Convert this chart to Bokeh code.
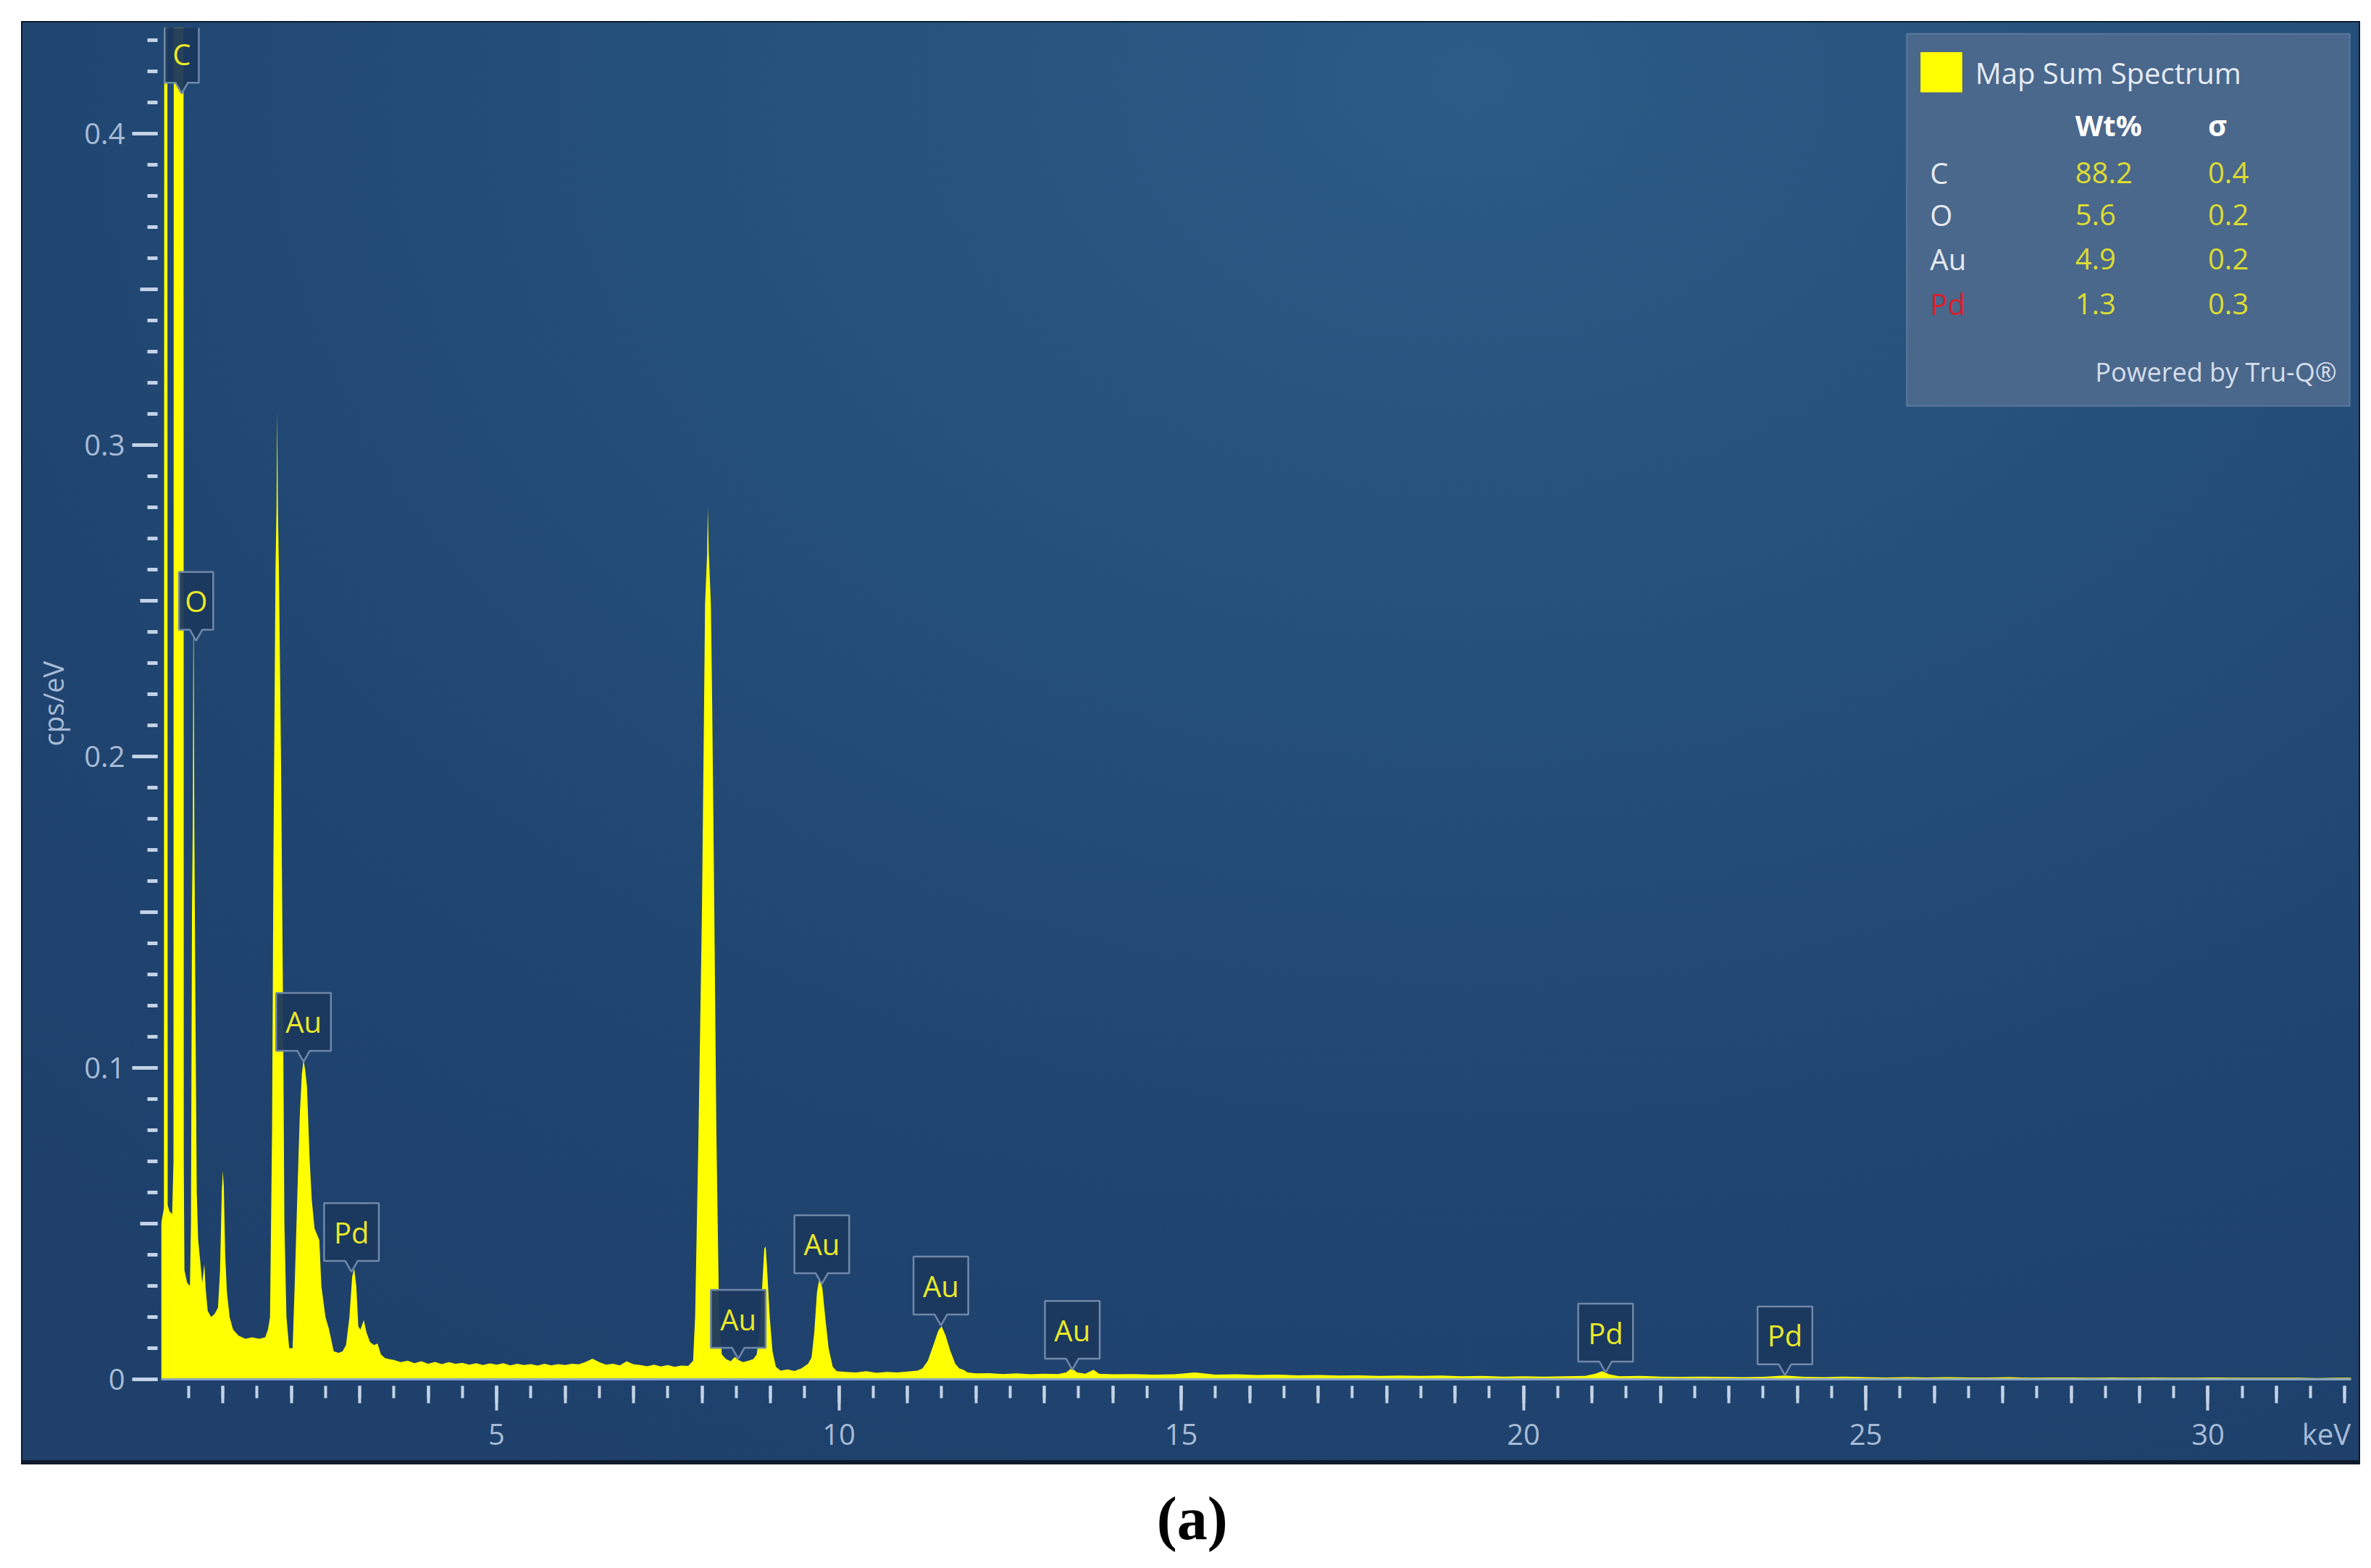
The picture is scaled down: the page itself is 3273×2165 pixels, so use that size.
from bokeh.plotting import figure
from bokeh.models import Range1d, LinearAxis, FixedTicker, CustomJSTickFormatter
from bokeh.embed import file_html
from bokeh.resources import INLINE
from bokeh.core.properties import value

FONT = "Open Sans"

# ---------------- data ----------------
energy_kev = [
    0.10, 0.14, 0.145, 0.19, 0.195, 0.22, 0.26, 0.28, 0.285, 0.425, 0.43, 0.44, 0.48, 0.52,
    0.535, 0.55, 0.562, 0.570, 0.576, 0.584, 0.60, 0.62, 0.64, 0.67, 0.70, 0.73, 0.75, 0.78,
    0.83, 0.88, 0.93, 0.96, 0.985, 1.00, 1.015, 1.035, 1.06, 1.10, 1.15, 1.23, 1.33, 1.43,
    1.53, 1.62, 1.66, 1.69, 1.72, 1.74, 1.77, 1.785, 1.795, 1.805, 1.82, 1.85, 1.88, 1.90,
    1.93, 1.97, 2.02, 2.05, 2.09, 2.125, 2.155, 2.18, 2.205, 2.23, 2.27, 2.30, 2.34, 2.41,
    2.44, 2.50, 2.55, 2.62, 2.69, 2.75, 2.80, 2.85, 2.89, 2.92, 2.95, 2.98, 3.01, 3.06,
    3.10, 3.15, 3.21, 3.26, 3.31, 3.37, 3.45,
    3.5, 3.6, 3.7, 3.8, 3.9, 4.0, 4.1, 4.2, 4.3, 4.4, 4.5, 4.6, 4.7, 4.8, 4.9, 5.0, 5.1,
    5.2, 5.3, 5.4, 5.5, 5.6, 5.7, 5.8, 5.9, 6.0, 6.1, 6.2, 6.3, 6.4, 6.5, 6.6, 6.7, 6.8,
    6.9, 7.0, 7.1, 7.2, 7.3, 7.4, 7.5, 7.6, 7.7, 7.8,
    7.87, 7.90, 7.95, 8.00, 8.03, 8.045, 8.075, 8.085, 8.10, 8.13, 8.15, 8.18, 8.21, 8.25, 8.29,
    8.35, 8.42, 8.48, 8.53, 8.60, 8.68, 8.75,
    8.80, 8.84, 8.88, 8.91, 8.93, 8.95, 8.99, 9.03, 9.08, 9.15, 9.25, 9.35, 9.45, 9.55,
    9.60, 9.64, 9.68, 9.72, 9.76, 9.80, 9.85, 9.91, 9.97,
    10.1, 10.25, 10.4, 10.55, 10.7, 10.85, 11.0, 11.15,
    11.22, 11.30, 11.38, 11.45, 11.50, 11.56, 11.63, 11.70, 11.76, 11.82, 11.88, 12.0,
    12.2, 12.4, 12.6, 12.8, 13.0, 13.2, 13.32, 13.40, 13.48, 13.6, 13.72, 13.8,
    14.0, 14.3, 14.6, 14.9, 15.2, 15.5, 15.8, 16.1, 16.4, 16.7, 17.0, 17.3, 17.6, 17.9,
    18.2, 18.5, 18.8, 19.1, 19.4, 19.7, 20.0, 20.3, 20.6, 20.9, 21.05, 21.15, 21.25, 21.4,
    21.7, 22.0, 22.3, 22.6, 22.9, 23.2, 23.5, 23.82, 24.1, 24.4, 24.7, 25.0, 25.3, 25.6,
    25.9, 26.2, 26.5, 26.8, 27.1, 27.4, 27.7, 28.0, 28.3, 28.6, 28.9, 29.2, 29.5, 29.8,
    30.1, 30.4, 30.7, 31.0, 31.3, 31.6, 31.9, 32.09,
]
cps_per_ev = [
    0.050, 0.055, 0.50, 0.50, 0.056, 0.054, 0.053, 0.070, 0.60, 0.60, 0.070, 0.035, 0.031, 0.030,
    0.050, 0.150, 0.180, 0.238, 0.238, 0.180, 0.120, 0.060, 0.045, 0.038, 0.031, 0.037, 0.029, 0.022,
    0.020, 0.021, 0.023, 0.035, 0.060, 0.067, 0.062, 0.040, 0.028, 0.020, 0.016, 0.014, 0.013, 0.0135,
    0.013, 0.0135, 0.016, 0.020, 0.080, 0.167, 0.260, 0.280, 0.311, 0.280, 0.260, 0.200, 0.120, 0.050,
    0.020, 0.010, 0.010, 0.030, 0.060, 0.085, 0.098, 0.1027, 0.099, 0.094, 0.070, 0.0576, 0.0485, 0.0447,
    0.030, 0.020, 0.0162, 0.009, 0.0085, 0.009, 0.011, 0.020, 0.033, 0.0355, 0.030, 0.017, 0.016, 0.019,
    0.015, 0.012, 0.011, 0.0115, 0.008, 0.0068, 0.0064,
    0.0062, 0.0055, 0.0060, 0.0052, 0.0058, 0.0050, 0.0056, 0.0049, 0.0055, 0.0050, 0.0053, 0.0047,
    0.0052, 0.0046, 0.0051, 0.0047, 0.0052, 0.0045, 0.0050, 0.0046, 0.0049, 0.0044, 0.0050, 0.0045,
    0.0049, 0.0046, 0.0050, 0.0048, 0.0056, 0.0066, 0.0055, 0.0047, 0.0050, 0.0045, 0.0058, 0.0048,
    0.0046, 0.0042, 0.0047, 0.0041, 0.0046, 0.0040, 0.0044, 0.0043,
    0.006, 0.020, 0.080, 0.151, 0.215, 0.249, 0.265, 0.280, 0.265, 0.249, 0.215, 0.151, 0.080, 0.020, 0.008,
    0.0065, 0.0058, 0.0072, 0.0062, 0.0055, 0.0060, 0.0065,
    0.008, 0.015, 0.030, 0.042, 0.0427, 0.036, 0.020, 0.009, 0.004, 0.0028, 0.0032, 0.0027, 0.0035, 0.005,
    0.007, 0.015, 0.028, 0.033, 0.029, 0.020, 0.010, 0.004, 0.0026,
    0.0024, 0.0022, 0.0026, 0.0021, 0.0024, 0.0022, 0.0025, 0.0028,
    0.0035, 0.006, 0.011, 0.0155, 0.0171, 0.014, 0.009, 0.005, 0.0035, 0.0031, 0.0022, 0.0019,
    0.0020, 0.0017, 0.0019, 0.0016, 0.0018, 0.0017, 0.0022, 0.0036, 0.0022, 0.0018, 0.0031, 0.0018,
    0.0016, 0.0017, 0.0015, 0.0016, 0.0022, 0.0015, 0.0016, 0.0014, 0.0015, 0.0013, 0.0014, 0.0012, 0.0013, 0.0011,
    0.0012, 0.0011, 0.0012, 0.0010, 0.0011, 0.0009, 0.0010, 0.0009, 0.0010, 0.0011, 0.0018, 0.0026, 0.0016, 0.0010,
    0.0011, 0.0009, 0.0008, 0.0009, 0.0008, 0.0007, 0.0008, 0.0012, 0.0008, 0.0007, 0.0009, 0.0007, 0.0006, 0.0007,
    0.0006, 0.0007, 0.0006, 0.0006, 0.0007, 0.0005, 0.0006, 0.0006, 0.0005, 0.0006, 0.0005, 0.0006, 0.0005, 0.0005,
    0.0006, 0.0005, 0.0005, 0.0005, 0.0005, 0.0004, 0.0005, 0.0005,
]

# peak identification labels
peak_elements = ["C", "O", "Au", "Pd", "Au", "Au", "Au", "Au", "Pd", "Pd"]
peak_label_kev = [0.40, 0.61, 2.18, 2.88, 8.53, 9.75, 11.49, 13.41, 21.20, 23.82]
peak_label_cps = [0.4257, 0.2500, 0.1148, 0.0473, 0.0194, 0.0434, 0.0301, 0.0159, 0.0150, 0.0141]

# quantification table
quant_elements = ["C", "O", "Au", "Pd"]
quant_wt = ["88.2", "5.6", "4.9", "1.3"]
quant_sigma = ["0.4", "0.2", "0.2", "0.3"]
quant_colors = ["#e4eaf2", "#e4eaf2", "#e4eaf2", "#d81f2a"]
legend_title = "Map Sum Spectrum"

x_major = [5, 10, 15, 20, 25, 30]
x_int = list(range(1, 33))
x_half = [v * 0.5 for v in range(1, 65)]
y_major = [0.0, 0.1, 0.2, 0.3, 0.4]
y_mid = [0.05, 0.15, 0.25, 0.35]
y_minor = [round(v * 0.01, 2) for v in range(0, 44)]
x_unit = "keV"
y_unit = "cps/eV"
kev_pos = 31.73
caption = "(a)"
caption_pos = 15.16

# ---------------- figure ----------------
X0, X1 = 0.10, 32.09
Y0, Y1 = 0.0, 0.434

p = figure(
    frame_width=3023, frame_height=1866,
    x_range=Range1d(X0, X1), y_range=Range1d(Y0, Y1),
    toolbar_location=None, output_backend="svg",
    min_border_left=222, min_border_right=20, min_border_top=38, min_border_bottom=253,
    x_axis_type=None, y_axis_type=None,
)
p.border_fill_color = None
p.background_fill_color = None
p.outline_line_color = None
p.styles = {
    "background": (
        "radial-gradient(ellipse 90% 110% at 62% 4%, #2c5b87 0%, #25507b 38%, #204571 70%, #1e406b 100%) "
        "31px 31px / 3225px 1985px no-repeat, "
        "linear-gradient(#0e1b2d, #0e1b2d) 29px 29px / 3229px 1993px no-repeat, "
        "#ffffff"
    ),
}

TICK_COL = "#c3d2e6"
LAB_COL = "#a7bbd5"


def hide_labels(ax):
    ax.major_label_text_color = None
    ax.major_label_standoff = 0
    ax.major_label_text_font_size = "1px"


# --- x: integer + half ticks (drawn outward, 9 px below the baseline)
ax1 = LinearAxis(ticker=FixedTicker(ticks=x_int, minor_ticks=x_half))
ax1.axis_line_color = "#8aa3c3"
ax1.axis_line_width = 3
ax1.major_tick_out = 9
ax1.major_tick_in = -33
ax1.minor_tick_out = 9
ax1.minor_tick_in = -26
ax1.major_tick_line_color = TICK_COL
ax1.minor_tick_line_color = TICK_COL
ax1.major_tick_line_width = 4
ax1.minor_tick_line_width = 4
hide_labels(ax1)
p.add_layout(ax1, "below")

# --- x: long ticks every 5 keV
ax2 = LinearAxis(ticker=FixedTicker(ticks=x_major, minor_ticks=[]))
ax2.axis_line_color = None
ax2.major_tick_out = 0
ax2.major_tick_in = -34
ax2.major_tick_line_color = TICK_COL
ax2.major_tick_line_width = 4
ax2.minor_tick_line_color = None
hide_labels(ax2)
p.add_layout(ax2, "below")

# --- x: tick labels and unit
ax3 = LinearAxis(
    ticker=FixedTicker(ticks=x_major + [kev_pos], minor_ticks=[]),
    formatter=CustomJSTickFormatter(
        args=dict(unit=x_unit, kev=kev_pos),
        code="return Math.abs(tick - kev) < 1e-6 ? unit : tick.toFixed(0);"),
)
ax3.axis_line_color = None
ax3.major_tick_out = 0
ax3.major_tick_in = 0
ax3.major_tick_line_color = None
ax3.minor_tick_line_color = None
ax3.major_label_text_font = FONT
ax3.major_label_text_font_size = "40px"
ax3.major_label_text_color = LAB_COL
ax3.major_label_standoff = 38
p.add_layout(ax3, "below")

# --- caption below the panel
ax4 = LinearAxis(
    ticker=FixedTicker(ticks=[caption_pos], minor_ticks=[]),
    formatter=CustomJSTickFormatter(args=dict(cap=caption), code="return cap;"),
)
ax4.axis_line_color = None
ax4.major_tick_out = 0
ax4.major_tick_in = 0
ax4.major_tick_line_color = None
ax4.minor_tick_line_color = None
ax4.major_label_text_font = "Liberation Serif"
ax4.major_label_text_font_size = "84px"
ax4.major_label_text_font_style = "bold"
ax4.major_label_text_color = "#000000"
ax4.major_label_standoff = 40
p.add_layout(ax4, "below")

# --- y: 0.05 and 0.01 ticks
ay1 = LinearAxis(ticker=FixedTicker(ticks=y_mid, minor_ticks=y_minor))
ay1.axis_line_color = None
ay1.major_tick_out = 5
ay1.major_tick_in = -29
ay1.minor_tick_out = 5
ay1.minor_tick_in = -19
ay1.major_tick_line_color = TICK_COL
ay1.minor_tick_line_color = TICK_COL
ay1.major_tick_line_width = 5
ay1.minor_tick_line_width = 5
hide_labels(ay1)
p.add_layout(ay1, "left")

# --- y: 0.1 ticks, labels and axis title
ay2 = LinearAxis(ticker=FixedTicker(ticks=y_major, minor_ticks=[]))
ay2.axis_line_color = None
ay2.major_tick_out = 0
ay2.major_tick_in = -35
ay2.major_tick_line_color = TICK_COL
ay2.major_tick_line_width = 5
ay2.minor_tick_line_color = None
ay2.major_label_text_font = FONT
ay2.major_label_text_font_size = "40px"
ay2.major_label_text_color = LAB_COL
ay2.major_label_standoff = 45
ay2.axis_label = y_unit
ay2.axis_label_text_font = FONT
ay2.axis_label_text_font_style = "normal"
ay2.axis_label_text_font_size = "38px"
ay2.axis_label_text_color = LAB_COL
ay2.axis_label_standoff = 14
p.add_layout(ay2, "left")

# spectrum
p.varea(x=energy_kev, y1=[0.0] * len(energy_kev), y2=cps_per_ev, fill_color="#ffff00")

# peak labels (callout boxes)
BOX_H = 0.0186
TAIL_W = 0.09
TAIL_D = 0.0035
xs, ys = [], []
for el, xc, yc in zip(peak_elements, peak_label_kev, peak_label_cps):
    w = 0.50 if len(el) == 1 else 0.80
    l, r = xc - w / 2, xc + w / 2
    t, b = yc + BOX_H / 2, yc - BOX_H / 2
    xs.append([l, r, r, xc + TAIL_W, xc, xc - TAIL_W, l])
    ys.append([t, t, b, b, b - TAIL_D, b, b])
p.patches(xs, ys, fill_color="#1b385e", fill_alpha=0.95, line_color="#7088a9", line_width=2.5)
p.text(x=peak_label_kev, y=peak_label_cps, text=peak_elements, text_font=value(FONT),
       text_font_size="40px", text_color="#e9e92a", text_align="center", text_baseline="middle")

# quantification legend
p.quad(left=[25.60], right=[32.07], top=[0.4321], bottom=[0.3126],
       fill_color="#4a678c", line_color="#5b789c", line_width=2)
p.quad(left=[25.80], right=[26.41], top=[0.4262], bottom=[0.4133],
       fill_color="#ffff00", line_color=None)
p.text(x=[26.60], y=[0.4196], text=[legend_title], text_font=value(FONT),
       text_font_size="40px", text_color="#e6ecf3", text_align="left", text_baseline="middle")
p.text(x=[28.06, 30.00], y=[0.4029, 0.4029], text=["Wt%", "σ"], text_font=value(FONT),
       text_font_size="40px", text_font_style="bold", text_color="#ffffff",
       text_align="left", text_baseline="middle")
row_y = [0.3875, 0.3740, 0.3598, 0.3455]
p.text(x=[25.94] * 4, y=row_y, text=quant_elements, text_font=value(FONT),
       text_font_size="40px", text_color=quant_colors, text_align="left", text_baseline="middle")
p.text(x=[28.06] * 4, y=row_y, text=quant_wt, text_font=value(FONT),
       text_font_size="40px", text_color="#dcdc32", text_align="left", text_baseline="middle")
p.text(x=[30.00] * 4, y=row_y, text=quant_sigma, text_font=value(FONT),
       text_font_size="40px", text_color="#dcdc32", text_align="left", text_baseline="middle")
p.text(x=[31.88], y=[0.3236], text=["Powered by Tru-Q®"], text_font=value(FONT),
       text_font_size="36px", text_color="#d5deea", text_align="right", text_baseline="middle")

open("out.html", "w").write(file_html(p, INLINE))
